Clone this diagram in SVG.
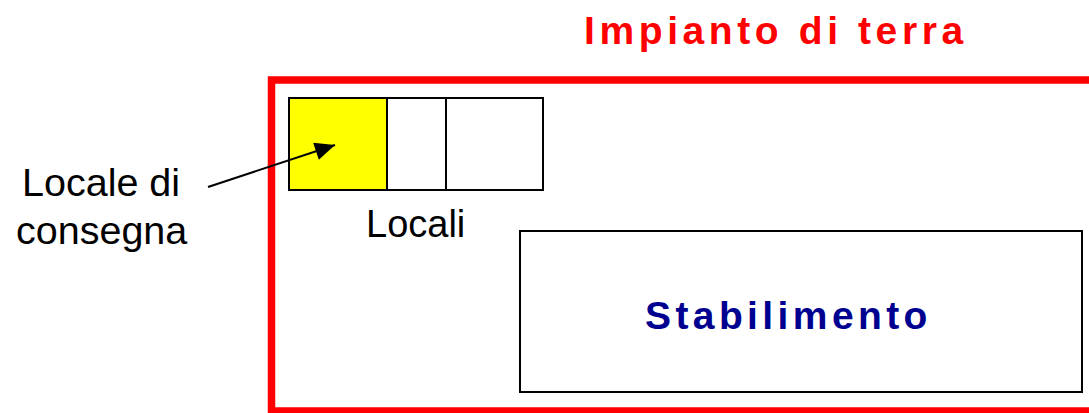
<svg xmlns="http://www.w3.org/2000/svg" width="1089" height="413" viewBox="0 0 1089 413">
  <style>
    .box { fill: #ffffff; stroke: #000000; stroke-width: 2; }
    .lbl { font-family: "Liberation Sans", Arial, sans-serif; font-size: 39.5px; fill: #000000; }
    .title { font-family: "Liberation Sans", Arial, sans-serif; font-weight: bold; font-size: 39px; letter-spacing: 4.6px; fill: #ff0000; }
    .name { font-family: "Liberation Sans", Arial, sans-serif; font-weight: bold; font-size: 39px; letter-spacing: 4.4px; fill: #000090; }
  </style>
  <defs>
    <marker id="arrowBig" viewBox="0 0 20 18" refX="20" refY="9" markerWidth="22" markerHeight="18" markerUnits="userSpaceOnUse" orient="auto">
      <path d="M0,0 L20,9 L0,18 z" fill="#000000"/>
    </marker>
  </defs>

  <rect width="1089" height="413" fill="#ffffff"/>

  <g id="impianto">
    <rect x="271.5" y="80" width="830" height="331" fill="none" stroke="#ff0000" stroke-width="7.5"/>
    <text class="title" x="584" y="44">Impianto di terra</text>
  </g>

  <g id="locale-consegna">
    <rect class="box" x="289" y="98" width="98" height="92" style="fill:#ffff00"/>
  </g>
  <g id="locale-2">
    <rect class="box" x="387" y="98" width="59" height="92"/>
  </g>
  <g id="locale-3">
    <rect class="box" x="446" y="98" width="97" height="92"/>
  </g>
  <g id="locali-label">
    <text class="lbl" x="366" y="237" style="font-size:38px">Locali</text>
  </g>

  <g id="stabilimento">
    <rect class="box" x="520" y="231" width="562" height="161"/>
    <text class="name" x="645" y="329">Stabilimento</text>
  </g>

  <g id="locale-label">
    <text class="lbl" x="22" y="196">Locale di</text>
    <text class="lbl" x="16" y="244">consegna</text>
  </g>

  <g id="connectors">
    <line x1="208" y1="187" x2="335" y2="145" stroke="#000000" stroke-width="2" marker-end="url(#arrowBig)"/>
  </g>
</svg>
